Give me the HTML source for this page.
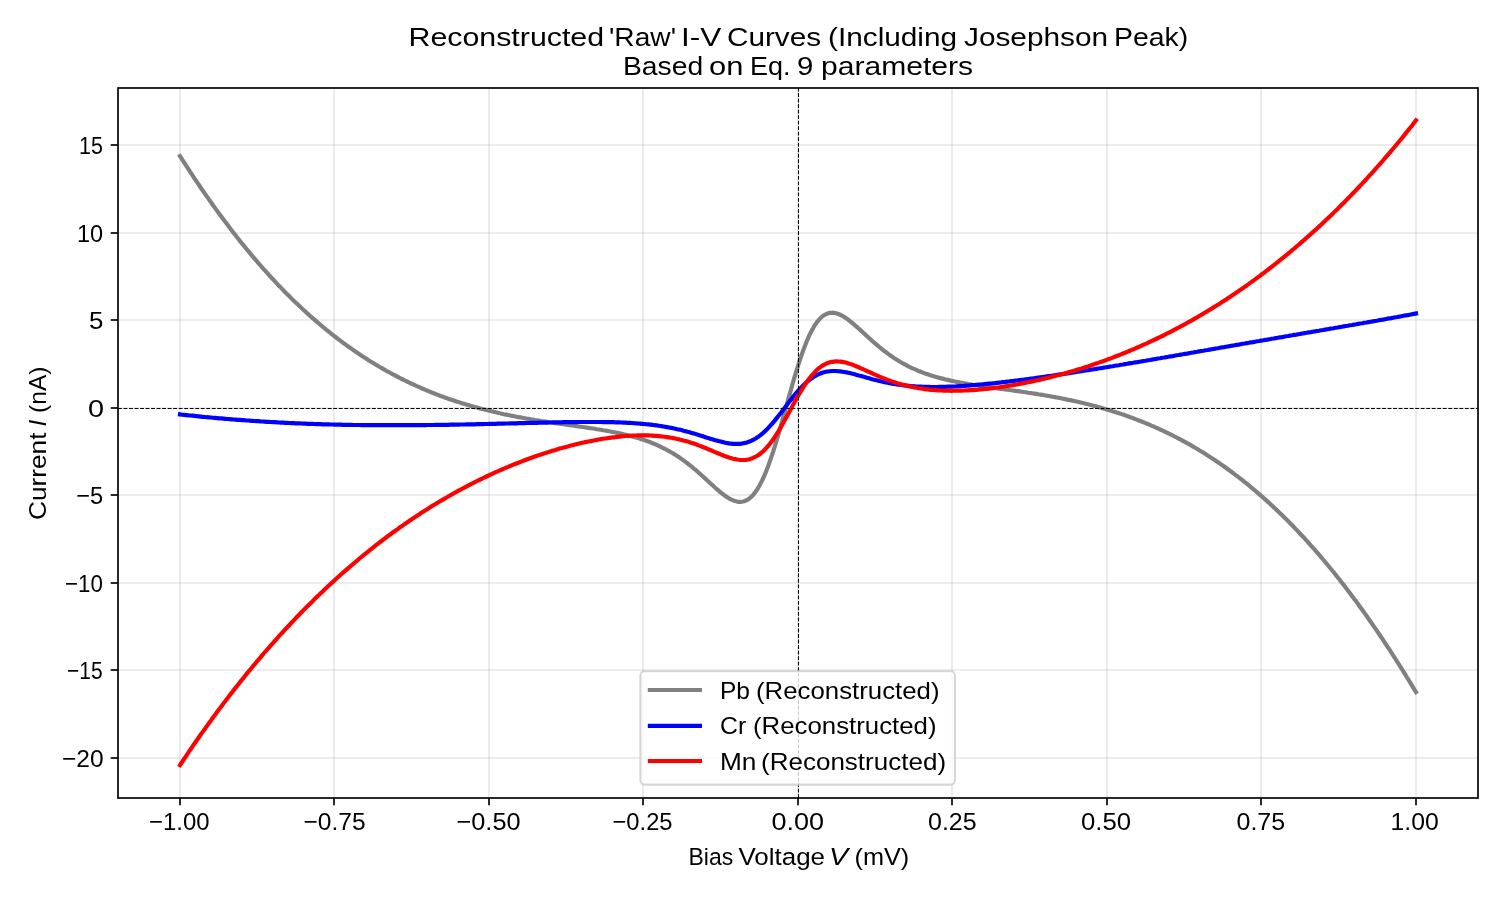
<!DOCTYPE html>
<html><head><meta charset="utf-8"><title>Reconstructed Raw I-V Curves</title>
<style>html,body{margin:0;padding:0;background:#fff}body{width:1500px;height:900px;overflow:hidden}svg{display:block;will-change:transform}text{font-family:"Liberation Sans",sans-serif;fill:#000}</style></head><body>
<svg width="1500" height="900" viewBox="0 0 1500 900">
<rect x="0" y="0" width="1500" height="900" fill="#fff"/>
<g stroke="#b0b0b0" stroke-opacity="0.3" stroke-width="1.67" fill="none">
<line x1="180" y1="88.0" x2="180" y2="798.0"/>
<line x1="334" y1="88.0" x2="334" y2="798.0"/>
<line x1="489" y1="88.0" x2="489" y2="798.0"/>
<line x1="643" y1="88.0" x2="643" y2="798.0"/>
<line x1="798" y1="88.0" x2="798" y2="798.0"/>
<line x1="952" y1="88.0" x2="952" y2="798.0"/>
<line x1="1107" y1="88.0" x2="1107" y2="798.0"/>
<line x1="1261" y1="88.0" x2="1261" y2="798.0"/>
<line x1="1416" y1="88.0" x2="1416" y2="798.0"/>
<line x1="118.0" y1="145" x2="1478.0" y2="145"/>
<line x1="118.0" y1="233" x2="1478.0" y2="233"/>
<line x1="118.0" y1="320" x2="1478.0" y2="320"/>
<line x1="118.0" y1="408" x2="1478.0" y2="408"/>
<line x1="118.0" y1="495" x2="1478.0" y2="495"/>
<line x1="118.0" y1="583" x2="1478.0" y2="583"/>
<line x1="118.0" y1="670" x2="1478.0" y2="670"/>
<line x1="118.0" y1="758" x2="1478.0" y2="758"/>
</g>
<g fill="none" stroke-width="4.17" stroke-linecap="square" stroke-linejoin="round">
<polyline stroke="#808080" points="180.0,156.1 182.1,159.3 184.1,162.5 186.2,165.7 188.3,168.9 190.3,172.1 192.4,175.2 194.4,178.3 196.5,181.4 198.6,184.4 200.6,187.5 202.7,190.5 204.8,193.5 206.8,196.4 208.9,199.4 211.0,202.3 213.0,205.2 215.1,208.1 217.1,210.9 219.2,213.8 221.3,216.6 223.3,219.3 225.4,222.1 227.5,224.8 229.5,227.5 231.6,230.2 233.6,232.9 235.7,235.5 237.8,238.2 239.8,240.8 241.9,243.3 244.0,245.9 246.0,248.4 248.1,250.9 250.2,253.4 252.2,255.9 254.3,258.3 256.3,260.7 258.4,263.1 260.5,265.5 262.5,267.8 264.6,270.1 266.7,272.4 268.7,274.7 270.8,277.0 272.9,279.2 274.9,281.4 277.0,283.6 279.0,285.8 281.1,287.9 283.2,290.1 285.2,292.2 287.3,294.3 289.4,296.3 291.4,298.4 293.5,300.4 295.6,302.4 297.6,304.3 299.7,306.3 301.7,308.2 303.8,310.2 305.9,312.0 307.9,313.9 310.0,315.8 312.1,317.6 314.1,319.4 316.2,321.2 318.3,323.0 320.3,324.7 322.4,326.5 324.4,328.2 326.5,329.9 328.6,331.5 330.6,333.2 332.7,334.8 334.8,336.4 336.8,338.0 338.9,339.6 340.9,341.1 343.0,342.7 345.1,344.2 347.1,345.7 349.2,347.2 351.3,348.6 353.3,350.1 355.4,351.5 357.5,352.9 359.5,354.3 361.6,355.7 363.6,357.0 365.7,358.3 367.8,359.7 369.8,361.0 371.9,362.2 374.0,363.5 376.0,364.8 378.1,366.0 380.2,367.2 382.2,368.4 384.3,369.6 386.3,370.8 388.4,371.9 390.5,373.0 392.5,374.1 394.6,375.2 396.7,376.3 398.7,377.4 400.8,378.5 402.9,379.5 404.9,380.5 407.0,381.5 409.0,382.5 411.1,383.5 413.2,384.4 415.2,385.4 417.3,386.3 419.4,387.2 421.4,388.2 423.5,389.0 425.5,389.9 427.6,390.8 429.7,391.6 431.7,392.5 433.8,393.3 435.9,394.1 437.9,394.9 440.0,395.7 442.1,396.4 444.1,397.2 446.2,397.9 448.2,398.7 450.3,399.4 452.4,400.1 454.4,400.8 456.5,401.5 458.6,402.1 460.6,402.8 462.7,403.4 464.8,404.1 466.8,404.7 468.9,405.3 470.9,405.9 473.0,406.5 475.1,407.1 477.1,407.6 479.2,408.2 481.3,408.8 483.3,409.3 485.4,409.8 487.5,410.3 489.5,410.8 491.6,411.3 493.6,411.8 495.7,412.3 497.8,412.8 499.8,413.3 501.9,413.7 504.0,414.2 506.0,414.6 508.1,415.0 510.2,415.4 512.2,415.9 514.3,416.3 516.3,416.7 518.4,417.1 520.5,417.4 522.5,417.8 524.6,418.2 526.7,418.6 528.7,418.9 530.8,419.3 532.8,419.6 534.9,420.0 537.0,420.3 539.0,420.6 541.1,421.0 543.2,421.3 545.2,421.6 547.3,421.9 549.4,422.2 551.4,422.5 553.5,422.8 555.5,423.2 557.6,423.5 559.7,423.7 561.7,424.0 563.8,424.3 565.9,424.6 567.9,424.9 570.0,425.2 572.1,425.5 574.1,425.8 576.2,426.1 578.2,426.4 580.3,426.7 582.4,427.0 584.4,427.3 586.5,427.6 588.6,427.9 590.6,428.2 592.7,428.5 594.8,428.8 596.8,429.2 598.9,429.5 600.9,429.8 603.0,430.2 605.1,430.5 607.1,430.9 609.2,431.3 611.3,431.7 613.3,432.1 615.4,432.5 617.4,432.9 619.5,433.3 621.6,433.8 623.6,434.3 625.7,434.7 627.8,435.3 629.8,435.8 631.9,436.3 634.0,436.9 636.0,437.5 638.1,438.1 640.1,438.7 642.2,439.4 644.3,440.1 646.3,440.8 648.4,441.6 650.5,442.3 652.5,443.2 654.6,444.0 656.7,444.9 658.7,445.8 660.8,446.8 662.8,447.8 664.9,448.9 667.0,450.0 669.0,451.1 671.1,452.3 673.2,453.5 675.2,454.8 677.3,456.1 679.4,457.5 681.4,458.9 683.5,460.4 685.5,461.9 687.6,463.5 689.7,465.1 691.7,466.7 693.8,468.5 695.9,470.2 697.9,472.0 700.0,473.8 702.1,475.7 704.1,477.5 706.2,479.4 708.2,481.3 710.3,483.2 712.4,485.1 714.4,487.0 716.5,488.8 718.6,490.6 720.6,492.3 722.7,494.0 724.7,495.5 726.8,497.0 728.9,498.3 730.9,499.4 733.0,500.3 735.1,501.1 737.1,501.6 739.2,501.9 741.3,501.8 743.3,501.5 745.4,500.8 747.4,499.8 749.5,498.4 751.6,496.5 753.6,494.3 755.7,491.6 757.8,488.5 759.8,485.0 761.9,480.9 764.0,476.5 766.0,471.6 768.1,466.3 770.1,460.6 772.2,454.5 774.3,448.1 776.3,441.4 778.4,434.4 780.5,427.2 782.5,419.9 784.6,412.5 786.7,405.0 788.7,397.6 790.8,390.2 792.8,383.0 794.9,375.9 797.0,369.1 799.0,362.6 801.1,356.4 803.2,350.5 805.2,345.1 807.3,340.0 809.3,335.4 811.4,331.2 813.5,327.4 815.5,324.2 817.6,321.3 819.7,318.9 821.7,316.9 823.8,315.4 825.9,314.2 827.9,313.4 830.0,312.9 832.0,312.7 834.1,312.9 836.2,313.3 838.2,314.0 840.3,314.8 842.4,315.9 844.4,317.1 846.5,318.5 848.6,320.0 850.6,321.6 852.7,323.3 854.7,325.1 856.8,326.9 858.9,328.8 860.9,330.6 863.0,332.5 865.1,334.4 867.1,336.3 869.2,338.2 871.3,340.0 873.3,341.9 875.4,343.7 877.4,345.4 879.5,347.2 881.6,348.8 883.6,350.5 885.7,352.0 887.8,353.6 889.8,355.1 891.9,356.5 893.9,357.9 896.0,359.2 898.1,360.5 900.1,361.8 902.2,363.0 904.3,364.1 906.3,365.2 908.4,366.3 910.5,367.3 912.5,368.3 914.6,369.2 916.6,370.1 918.7,371.0 920.8,371.8 922.8,372.6 924.9,373.4 927.0,374.1 929.0,374.8 931.1,375.4 933.2,376.1 935.2,376.7 937.3,377.3 939.3,377.9 941.4,378.4 943.5,378.9 945.5,379.4 947.6,379.9 949.7,380.4 951.7,380.9 953.8,381.3 955.9,381.7 957.9,382.1 960.0,382.5 962.0,382.9 964.1,383.3 966.2,383.6 968.2,384.0 970.3,384.3 972.4,384.7 974.4,385.0 976.5,385.3 978.6,385.6 980.6,385.9 982.7,386.2 984.7,386.5 986.8,386.8 988.9,387.1 990.9,387.4 993.0,387.7 995.1,388.0 997.1,388.3 999.2,388.6 1001.2,388.9 1003.3,389.1 1005.4,389.4 1007.4,389.7 1009.5,390.0 1011.6,390.3 1013.6,390.6 1015.7,390.9 1017.8,391.1 1019.8,391.4 1021.9,391.7 1023.9,392.0 1026.0,392.3 1028.1,392.7 1030.1,393.0 1032.2,393.3 1034.3,393.6 1036.3,393.9 1038.4,394.3 1040.5,394.6 1042.5,394.9 1044.6,395.3 1046.6,395.6 1048.7,396.0 1050.8,396.4 1052.8,396.7 1054.9,397.1 1057.0,397.5 1059.0,397.9 1061.1,398.3 1063.2,398.7 1065.2,399.1 1067.3,399.6 1069.3,400.0 1071.4,400.4 1073.5,400.9 1075.5,401.3 1077.6,401.8 1079.7,402.3 1081.7,402.8 1083.8,403.3 1085.8,403.8 1087.9,404.3 1090.0,404.8 1092.0,405.3 1094.1,405.9 1096.2,406.4 1098.2,407.0 1100.3,407.6 1102.4,408.2 1104.4,408.8 1106.5,409.4 1108.5,410.0 1110.6,410.6 1112.7,411.3 1114.7,411.9 1116.8,412.6 1118.9,413.2 1120.9,413.9 1123.0,414.6 1125.1,415.3 1127.1,416.1 1129.2,416.8 1131.2,417.6 1133.3,418.3 1135.4,419.1 1137.4,419.9 1139.5,420.7 1141.6,421.5 1143.6,422.3 1145.7,423.2 1147.8,424.0 1149.8,424.9 1151.9,425.8 1153.9,426.7 1156.0,427.6 1158.1,428.5 1160.1,429.5 1162.2,430.4 1164.3,431.4 1166.3,432.4 1168.4,433.4 1170.5,434.4 1172.5,435.4 1174.6,436.5 1176.6,437.5 1178.7,438.6 1180.8,439.7 1182.8,440.8 1184.9,441.9 1187.0,443.1 1189.0,444.2 1191.1,445.4 1193.1,446.6 1195.2,447.8 1197.3,449.0 1199.3,450.3 1201.4,451.5 1203.5,452.8 1205.5,454.1 1207.6,455.4 1209.7,456.7 1211.7,458.1 1213.8,459.4 1215.8,460.8 1217.9,462.2 1220.0,463.6 1222.0,465.1 1224.1,466.5 1226.2,468.0 1228.2,469.5 1230.3,471.0 1232.4,472.5 1234.4,474.1 1236.5,475.6 1238.5,477.2 1240.6,478.8 1242.7,480.4 1244.7,482.1 1246.8,483.7 1248.9,485.4 1250.9,487.1 1253.0,488.8 1255.1,490.6 1257.1,492.3 1259.2,494.1 1261.2,495.9 1263.3,497.7 1265.4,499.6 1267.4,501.4 1269.5,503.3 1271.6,505.2 1273.6,507.1 1275.7,509.0 1277.7,511.0 1279.8,513.0 1281.9,515.0 1283.9,517.0 1286.0,519.1 1288.1,521.1 1290.1,523.2 1292.2,525.3 1294.3,527.5 1296.3,529.6 1298.4,531.8 1300.4,534.0 1302.5,536.2 1304.6,538.4 1306.6,540.7 1308.7,543.0 1310.8,545.3 1312.8,547.6 1314.9,549.9 1317.0,552.3 1319.0,554.7 1321.1,557.1 1323.1,559.5 1325.2,562.0 1327.3,564.5 1329.3,567.0 1331.4,569.5 1333.5,572.0 1335.5,574.6 1337.6,577.2 1339.7,579.8 1341.7,582.4 1343.8,585.1 1345.8,587.8 1347.9,590.5 1350.0,593.2 1352.0,596.0 1354.1,598.7 1356.2,601.5 1358.2,604.3 1360.3,607.2 1362.4,610.0 1364.4,612.9 1366.5,615.8 1368.5,618.7 1370.6,621.7 1372.7,624.7 1374.7,627.6 1376.8,630.7 1378.9,633.7 1380.9,636.8 1383.0,639.8 1385.0,643.0 1387.1,646.1 1389.2,649.2 1391.2,652.4 1393.3,655.6 1395.4,658.8 1397.4,662.0 1399.5,665.3 1401.6,668.6 1403.6,671.9 1405.7,675.2 1407.7,678.6 1409.8,681.9 1411.9,685.3 1413.9,688.7 1416.0,692.1"/>
<polyline stroke="#0000ff" points="180.0,414.4 182.1,414.7 184.1,414.9 186.2,415.1 188.3,415.3 190.3,415.5 192.4,415.7 194.4,415.9 196.5,416.2 198.6,416.4 200.6,416.6 202.7,416.8 204.8,417.0 206.8,417.2 208.9,417.3 211.0,417.5 213.0,417.7 215.1,417.9 217.1,418.1 219.2,418.3 221.3,418.4 223.3,418.6 225.4,418.8 227.5,419.0 229.5,419.1 231.6,419.3 233.6,419.5 235.7,419.6 237.8,419.8 239.8,419.9 241.9,420.1 244.0,420.2 246.0,420.4 248.1,420.5 250.2,420.7 252.2,420.8 254.3,421.0 256.3,421.1 258.4,421.2 260.5,421.4 262.5,421.5 264.6,421.6 266.7,421.8 268.7,421.9 270.8,422.0 272.9,422.1 274.9,422.2 277.0,422.3 279.0,422.5 281.1,422.6 283.2,422.7 285.2,422.8 287.3,422.9 289.4,423.0 291.4,423.1 293.5,423.2 295.6,423.3 297.6,423.3 299.7,423.4 301.7,423.5 303.8,423.6 305.9,423.7 307.9,423.8 310.0,423.8 312.1,423.9 314.1,424.0 316.2,424.1 318.3,424.1 320.3,424.2 322.4,424.3 324.4,424.3 326.5,424.4 328.6,424.4 330.6,424.5 332.7,424.5 334.8,424.6 336.8,424.6 338.9,424.7 340.9,424.7 343.0,424.8 345.1,424.8 347.1,424.8 349.2,424.9 351.3,424.9 353.3,425.0 355.4,425.0 357.5,425.0 359.5,425.0 361.6,425.1 363.6,425.1 365.7,425.1 367.8,425.1 369.8,425.2 371.9,425.2 374.0,425.2 376.0,425.2 378.1,425.2 380.2,425.2 382.2,425.2 384.3,425.2 386.3,425.2 388.4,425.2 390.5,425.2 392.5,425.2 394.6,425.2 396.7,425.2 398.7,425.2 400.8,425.2 402.9,425.2 404.9,425.2 407.0,425.2 409.0,425.2 411.1,425.2 413.2,425.2 415.2,425.2 417.3,425.1 419.4,425.1 421.4,425.1 423.5,425.1 425.5,425.1 427.6,425.0 429.7,425.0 431.7,425.0 433.8,425.0 435.9,424.9 437.9,424.9 440.0,424.9 442.1,424.9 444.1,424.8 446.2,424.8 448.2,424.8 450.3,424.7 452.4,424.7 454.4,424.7 456.5,424.6 458.6,424.6 460.6,424.5 462.7,424.5 464.8,424.5 466.8,424.4 468.9,424.4 470.9,424.3 473.0,424.3 475.1,424.3 477.1,424.2 479.2,424.2 481.3,424.1 483.3,424.1 485.4,424.0 487.5,424.0 489.5,423.9 491.6,423.9 493.6,423.8 495.7,423.8 497.8,423.7 499.8,423.7 501.9,423.6 504.0,423.6 506.0,423.5 508.1,423.5 510.2,423.4 512.2,423.4 514.3,423.3 516.3,423.3 518.4,423.2 520.5,423.2 522.5,423.1 524.6,423.1 526.7,423.0 528.7,423.0 530.8,422.9 532.8,422.9 534.9,422.8 537.0,422.8 539.0,422.7 541.1,422.7 543.2,422.6 545.2,422.6 547.3,422.6 549.4,422.5 551.4,422.5 553.5,422.4 555.5,422.4 557.6,422.3 559.7,422.3 561.7,422.3 563.8,422.2 565.9,422.2 567.9,422.2 570.0,422.1 572.1,422.1 574.1,422.1 576.2,422.1 578.2,422.0 580.3,422.0 582.4,422.0 584.4,422.0 586.5,422.0 588.6,422.0 590.6,422.0 592.7,422.0 594.8,422.0 596.8,422.0 598.9,422.0 600.9,422.0 603.0,422.1 605.1,422.1 607.1,422.1 609.2,422.1 611.3,422.2 613.3,422.2 615.4,422.3 617.4,422.4 619.5,422.4 621.6,422.5 623.6,422.6 625.7,422.7 627.8,422.8 629.8,422.9 631.9,423.0 634.0,423.2 636.0,423.3 638.1,423.5 640.1,423.6 642.2,423.8 644.3,424.0 646.3,424.2 648.4,424.4 650.5,424.6 652.5,424.9 654.6,425.2 656.7,425.4 658.7,425.7 660.8,426.0 662.8,426.4 664.9,426.7 667.0,427.1 669.0,427.5 671.1,427.9 673.2,428.3 675.2,428.7 677.3,429.2 679.4,429.6 681.4,430.1 683.5,430.7 685.5,431.2 687.6,431.8 689.7,432.3 691.7,432.9 693.8,433.5 695.9,434.1 697.9,434.8 700.0,435.4 702.1,436.0 704.1,436.7 706.2,437.4 708.2,438.0 710.3,438.7 712.4,439.3 714.4,439.9 716.5,440.5 718.6,441.1 720.6,441.6 722.7,442.1 724.7,442.6 726.8,443.0 728.9,443.4 730.9,443.6 733.0,443.8 735.1,443.9 737.1,443.9 739.2,443.9 741.3,443.7 743.3,443.3 745.4,442.9 747.4,442.3 749.5,441.6 751.6,440.7 753.6,439.6 755.7,438.5 757.8,437.1 759.8,435.6 761.9,434.0 764.0,432.2 766.0,430.2 768.1,428.1 770.1,425.9 772.2,423.6 774.3,421.1 776.3,418.6 778.4,416.0 780.5,413.4 782.5,410.7 784.6,407.9 786.7,405.2 788.7,402.5 790.8,399.9 792.8,397.2 794.9,394.7 797.0,392.2 799.0,389.9 801.1,387.6 803.2,385.5 805.2,383.5 807.3,381.7 809.3,380.0 811.4,378.4 813.5,377.0 815.5,375.8 817.6,374.7 819.7,373.8 821.7,373.0 823.8,372.3 825.9,371.8 827.9,371.5 830.0,371.2 832.0,371.0 834.1,371.0 836.2,371.0 838.2,371.2 840.3,371.4 842.4,371.7 844.4,372.0 846.5,372.4 848.6,372.8 850.6,373.3 852.7,373.8 854.7,374.3 856.8,374.9 858.9,375.5 860.9,376.0 863.0,376.6 865.1,377.2 867.1,377.8 869.2,378.3 871.3,378.9 873.3,379.4 875.4,380.0 877.4,380.5 879.5,381.0 881.6,381.5 883.6,381.9 885.7,382.4 887.8,382.8 889.8,383.2 891.9,383.6 893.9,383.9 896.0,384.2 898.1,384.6 900.1,384.8 902.2,385.1 904.3,385.4 906.3,385.6 908.4,385.8 910.5,386.0 912.5,386.2 914.6,386.3 916.6,386.5 918.7,386.6 920.8,386.7 922.8,386.8 924.9,386.8 927.0,386.9 929.0,386.9 931.1,387.0 933.2,387.0 935.2,387.0 937.3,387.0 939.3,386.9 941.4,386.9 943.5,386.9 945.5,386.8 947.6,386.7 949.7,386.7 951.7,386.6 953.8,386.5 955.9,386.4 957.9,386.2 960.0,386.1 962.0,386.0 964.1,385.9 966.2,385.7 968.2,385.6 970.3,385.4 972.4,385.2 974.4,385.1 976.5,384.9 978.6,384.7 980.6,384.5 982.7,384.3 984.7,384.1 986.8,383.9 988.9,383.7 990.9,383.5 993.0,383.3 995.1,383.1 997.1,382.8 999.2,382.6 1001.2,382.4 1003.3,382.1 1005.4,381.9 1007.4,381.6 1009.5,381.4 1011.6,381.1 1013.6,380.9 1015.7,380.6 1017.8,380.4 1019.8,380.1 1021.9,379.8 1023.9,379.6 1026.0,379.3 1028.1,379.0 1030.1,378.7 1032.2,378.5 1034.3,378.2 1036.3,377.9 1038.4,377.6 1040.5,377.3 1042.5,377.0 1044.6,376.7 1046.6,376.4 1048.7,376.1 1050.8,375.9 1052.8,375.6 1054.9,375.2 1057.0,374.9 1059.0,374.6 1061.1,374.3 1063.2,374.0 1065.2,373.7 1067.3,373.4 1069.3,373.1 1071.4,372.8 1073.5,372.4 1075.5,372.1 1077.6,371.8 1079.7,371.5 1081.7,371.2 1083.8,370.8 1085.8,370.5 1087.9,370.2 1090.0,369.9 1092.0,369.5 1094.1,369.2 1096.2,368.9 1098.2,368.5 1100.3,368.2 1102.4,367.9 1104.4,367.5 1106.5,367.2 1108.5,366.9 1110.6,366.5 1112.7,366.2 1114.7,365.8 1116.8,365.5 1118.9,365.2 1120.9,364.8 1123.0,364.5 1125.1,364.1 1127.1,363.8 1129.2,363.4 1131.2,363.1 1133.3,362.8 1135.4,362.4 1137.4,362.1 1139.5,361.7 1141.6,361.4 1143.6,361.0 1145.7,360.7 1147.8,360.3 1149.8,360.0 1151.9,359.6 1153.9,359.2 1156.0,358.9 1158.1,358.5 1160.1,358.2 1162.2,357.8 1164.3,357.5 1166.3,357.1 1168.4,356.8 1170.5,356.4 1172.5,356.1 1174.6,355.7 1176.6,355.3 1178.7,355.0 1180.8,354.6 1182.8,354.3 1184.9,353.9 1187.0,353.6 1189.0,353.2 1191.1,352.8 1193.1,352.5 1195.2,352.1 1197.3,351.8 1199.3,351.4 1201.4,351.0 1203.5,350.7 1205.5,350.3 1207.6,350.0 1209.7,349.6 1211.7,349.2 1213.8,348.9 1215.8,348.5 1217.9,348.2 1220.0,347.8 1222.0,347.4 1224.1,347.1 1226.2,346.7 1228.2,346.4 1230.3,346.0 1232.4,345.6 1234.4,345.3 1236.5,344.9 1238.5,344.6 1240.6,344.2 1242.7,343.8 1244.7,343.5 1246.8,343.1 1248.9,342.8 1250.9,342.4 1253.0,342.1 1255.1,341.7 1257.1,341.3 1259.2,341.0 1261.2,340.6 1263.3,340.3 1265.4,339.9 1267.4,339.6 1269.5,339.2 1271.6,338.8 1273.6,338.5 1275.7,338.1 1277.7,337.8 1279.8,337.4 1281.9,337.1 1283.9,336.7 1286.0,336.3 1288.1,336.0 1290.1,335.6 1292.2,335.3 1294.3,334.9 1296.3,334.6 1298.4,334.2 1300.4,333.9 1302.5,333.5 1304.6,333.1 1306.6,332.8 1308.7,332.4 1310.8,332.1 1312.8,331.7 1314.9,331.4 1317.0,331.0 1319.0,330.7 1321.1,330.3 1323.1,330.0 1325.2,329.6 1327.3,329.2 1329.3,328.9 1331.4,328.5 1333.5,328.2 1335.5,327.8 1337.6,327.5 1339.7,327.1 1341.7,326.8 1343.8,326.4 1345.8,326.0 1347.9,325.7 1350.0,325.3 1352.0,325.0 1354.1,324.6 1356.2,324.3 1358.2,323.9 1360.3,323.5 1362.4,323.2 1364.4,322.8 1366.5,322.5 1368.5,322.1 1370.6,321.7 1372.7,321.4 1374.7,321.0 1376.8,320.7 1378.9,320.3 1380.9,319.9 1383.0,319.6 1385.0,319.2 1387.1,318.8 1389.2,318.4 1391.2,318.1 1393.3,317.7 1395.4,317.3 1397.4,317.0 1399.5,316.6 1401.6,316.2 1403.6,315.8 1405.7,315.4 1407.7,315.1 1409.8,314.7 1411.9,314.3 1413.9,313.9 1416.0,313.5"/>
<polyline stroke="#ff0000" points="180.0,765.1 182.1,762.0 184.1,758.9 186.2,755.8 188.3,752.7 190.3,749.7 192.4,746.7 194.4,743.7 196.5,740.7 198.6,737.7 200.6,734.8 202.7,731.9 204.8,729.0 206.8,726.1 208.9,723.2 211.0,720.4 213.0,717.5 215.1,714.7 217.1,711.9 219.2,709.2 221.3,706.4 223.3,703.7 225.4,701.0 227.5,698.2 229.5,695.6 231.6,692.9 233.6,690.2 235.7,687.6 237.8,685.0 239.8,682.4 241.9,679.8 244.0,677.3 246.0,674.7 248.1,672.2 250.2,669.7 252.2,667.2 254.3,664.7 256.3,662.2 258.4,659.8 260.5,657.3 262.5,654.9 264.6,652.5 266.7,650.1 268.7,647.8 270.8,645.4 272.9,643.1 274.9,640.8 277.0,638.5 279.0,636.2 281.1,633.9 283.2,631.7 285.2,629.4 287.3,627.2 289.4,625.0 291.4,622.8 293.5,620.6 295.6,618.4 297.6,616.3 299.7,614.2 301.7,612.0 303.8,609.9 305.9,607.8 307.9,605.8 310.0,603.7 312.1,601.7 314.1,599.6 316.2,597.6 318.3,595.6 320.3,593.6 322.4,591.7 324.4,589.7 326.5,587.8 328.6,585.8 330.6,583.9 332.7,582.0 334.8,580.1 336.8,578.2 338.9,576.4 340.9,574.5 343.0,572.7 345.1,570.9 347.1,569.1 349.2,567.3 351.3,565.5 353.3,563.8 355.4,562.0 357.5,560.3 359.5,558.5 361.6,556.8 363.6,555.1 365.7,553.5 367.8,551.8 369.8,550.1 371.9,548.5 374.0,546.8 376.0,545.2 378.1,543.6 380.2,542.0 382.2,540.5 384.3,538.9 386.3,537.3 388.4,535.8 390.5,534.3 392.5,532.7 394.6,531.2 396.7,529.8 398.7,528.3 400.8,526.8 402.9,525.4 404.9,523.9 407.0,522.5 409.0,521.1 411.1,519.7 413.2,518.3 415.2,516.9 417.3,515.5 419.4,514.2 421.4,512.8 423.5,511.5 425.5,510.2 427.6,508.9 429.7,507.6 431.7,506.3 433.8,505.0 435.9,503.8 437.9,502.5 440.0,501.3 442.1,500.1 444.1,498.9 446.2,497.7 448.2,496.5 450.3,495.3 452.4,494.1 454.4,493.0 456.5,491.8 458.6,490.7 460.6,489.6 462.7,488.5 464.8,487.4 466.8,486.3 468.9,485.2 470.9,484.1 473.0,483.1 475.1,482.0 477.1,481.0 479.2,480.0 481.3,479.0 483.3,478.0 485.4,477.0 487.5,476.0 489.5,475.0 491.6,474.1 493.6,473.2 495.7,472.2 497.8,471.3 499.8,470.4 501.9,469.5 504.0,468.6 506.0,467.7 508.1,466.9 510.2,466.0 512.2,465.1 514.3,464.3 516.3,463.5 518.4,462.7 520.5,461.9 522.5,461.1 524.6,460.3 526.7,459.5 528.7,458.8 530.8,458.0 532.8,457.3 534.9,456.5 537.0,455.8 539.0,455.1 541.1,454.4 543.2,453.7 545.2,453.1 547.3,452.4 549.4,451.8 551.4,451.1 553.5,450.5 555.5,449.9 557.6,449.2 559.7,448.6 561.7,448.1 563.8,447.5 565.9,446.9 567.9,446.4 570.0,445.8 572.1,445.3 574.1,444.8 576.2,444.3 578.2,443.8 580.3,443.3 582.4,442.8 584.4,442.4 586.5,441.9 588.6,441.5 590.6,441.1 592.7,440.7 594.8,440.3 596.8,439.9 598.9,439.5 600.9,439.1 603.0,438.8 605.1,438.5 607.1,438.2 609.2,437.9 611.3,437.6 613.3,437.3 615.4,437.1 617.4,436.8 619.5,436.6 621.6,436.4 623.6,436.2 625.7,436.0 627.8,435.9 629.8,435.8 631.9,435.6 634.0,435.5 636.0,435.5 638.1,435.4 640.1,435.4 642.2,435.4 644.3,435.4 646.3,435.4 648.4,435.4 650.5,435.5 652.5,435.6 654.6,435.8 656.7,435.9 658.7,436.1 660.8,436.3 662.8,436.5 664.9,436.8 667.0,437.1 669.0,437.4 671.1,437.7 673.2,438.1 675.2,438.5 677.3,439.0 679.4,439.4 681.4,439.9 683.5,440.5 685.5,441.0 687.6,441.6 689.7,442.3 691.7,442.9 693.8,443.6 695.9,444.3 697.9,445.1 700.0,445.9 702.1,446.7 704.1,447.5 706.2,448.3 708.2,449.2 710.3,450.0 712.4,450.9 714.4,451.8 716.5,452.7 718.6,453.5 720.6,454.4 722.7,455.2 724.7,456.0 726.8,456.7 728.9,457.4 730.9,458.1 733.0,458.7 735.1,459.1 737.1,459.5 739.2,459.8 741.3,460.0 743.3,460.0 745.4,459.9 747.4,459.6 749.5,459.2 751.6,458.6 753.6,457.7 755.7,456.7 757.8,455.5 759.8,454.0 761.9,452.4 764.0,450.5 766.0,448.3 768.1,446.0 770.1,443.4 772.2,440.7 774.3,437.7 776.3,434.6 778.4,431.3 780.5,427.8 782.5,424.2 784.6,420.5 786.7,416.8 788.7,413.0 790.8,409.2 792.8,405.4 794.9,401.6 797.0,397.9 799.0,394.3 801.1,390.9 803.2,387.5 805.2,384.3 807.3,381.3 809.3,378.5 811.4,375.9 813.5,373.5 815.5,371.3 817.6,369.4 819.7,367.6 821.7,366.1 823.8,364.9 825.9,363.8 827.9,363.0 830.0,362.3 832.0,361.8 834.1,361.6 836.2,361.4 838.2,361.5 840.3,361.6 842.4,361.9 844.4,362.3 846.5,362.8 848.6,363.4 850.6,364.1 852.7,364.8 854.7,365.6 856.8,366.5 858.9,367.3 860.9,368.3 863.0,369.2 865.1,370.1 867.1,371.1 869.2,372.0 871.3,372.9 873.3,373.9 875.4,374.8 877.4,375.7 879.5,376.6 881.6,377.4 883.6,378.3 885.7,379.1 887.8,379.9 889.8,380.6 891.9,381.4 893.9,382.1 896.0,382.7 898.1,383.4 900.1,384.0 902.2,384.6 904.3,385.1 906.3,385.6 908.4,386.1 910.5,386.6 912.5,387.0 914.6,387.4 916.6,387.8 918.7,388.2 920.8,388.5 922.8,388.8 924.9,389.1 927.0,389.3 929.0,389.6 931.1,389.8 933.2,390.0 935.2,390.1 937.3,390.3 939.3,390.4 941.4,390.5 943.5,390.6 945.5,390.7 947.6,390.7 949.7,390.7 951.7,390.8 953.8,390.7 955.9,390.7 957.9,390.7 960.0,390.6 962.0,390.6 964.1,390.5 966.2,390.4 968.2,390.3 970.3,390.2 972.4,390.1 974.4,389.9 976.5,389.8 978.6,389.6 980.6,389.4 982.7,389.2 984.7,389.0 986.8,388.8 988.9,388.6 990.9,388.3 993.0,388.1 995.1,387.8 997.1,387.5 999.2,387.3 1001.2,387.0 1003.3,386.7 1005.4,386.3 1007.4,386.0 1009.5,385.7 1011.6,385.4 1013.6,385.0 1015.7,384.6 1017.8,384.3 1019.8,383.9 1021.9,383.5 1023.9,383.1 1026.0,382.7 1028.1,382.3 1030.1,381.9 1032.2,381.4 1034.3,381.0 1036.3,380.5 1038.4,380.1 1040.5,379.6 1042.5,379.1 1044.6,378.6 1046.6,378.1 1048.7,377.6 1050.8,377.1 1052.8,376.6 1054.9,376.1 1057.0,375.5 1059.0,375.0 1061.1,374.4 1063.2,373.9 1065.2,373.3 1067.3,372.7 1069.3,372.1 1071.4,371.5 1073.5,370.9 1075.5,370.3 1077.6,369.6 1079.7,369.0 1081.7,368.4 1083.8,367.7 1085.8,367.0 1087.9,366.4 1090.0,365.7 1092.0,365.0 1094.1,364.3 1096.2,363.6 1098.2,362.9 1100.3,362.1 1102.4,361.4 1104.4,360.7 1106.5,359.9 1108.5,359.1 1110.6,358.4 1112.7,357.6 1114.7,356.8 1116.8,356.0 1118.9,355.2 1120.9,354.4 1123.0,353.5 1125.1,352.7 1127.1,351.9 1129.2,351.0 1131.2,350.1 1133.3,349.3 1135.4,348.4 1137.4,347.5 1139.5,346.6 1141.6,345.7 1143.6,344.7 1145.7,343.8 1147.8,342.9 1149.8,341.9 1151.9,340.9 1153.9,340.0 1156.0,339.0 1158.1,338.0 1160.1,337.0 1162.2,336.0 1164.3,335.0 1166.3,333.9 1168.4,332.9 1170.5,331.8 1172.5,330.8 1174.6,329.7 1176.6,328.6 1178.7,327.5 1180.8,326.4 1182.8,325.3 1184.9,324.2 1187.0,323.0 1189.0,321.9 1191.1,320.7 1193.1,319.6 1195.2,318.4 1197.3,317.2 1199.3,316.0 1201.4,314.8 1203.5,313.6 1205.5,312.3 1207.6,311.1 1209.7,309.8 1211.7,308.6 1213.8,307.3 1215.8,306.0 1217.9,304.7 1220.0,303.4 1222.0,302.1 1224.1,300.8 1226.2,299.4 1228.2,298.1 1230.3,296.7 1232.4,295.3 1234.4,293.9 1236.5,292.5 1238.5,291.1 1240.6,289.7 1242.7,288.3 1244.7,286.8 1246.8,285.4 1248.9,283.9 1250.9,282.4 1253.0,280.9 1255.1,279.4 1257.1,277.9 1259.2,276.4 1261.2,274.8 1263.3,273.3 1265.4,271.7 1267.4,270.1 1269.5,268.5 1271.6,266.9 1273.6,265.3 1275.7,263.7 1277.7,262.1 1279.8,260.4 1281.9,258.7 1283.9,257.1 1286.0,255.4 1288.1,253.7 1290.1,252.0 1292.2,250.2 1294.3,248.5 1296.3,246.7 1298.4,245.0 1300.4,243.2 1302.5,241.4 1304.6,239.6 1306.6,237.8 1308.7,235.9 1310.8,234.1 1312.8,232.2 1314.9,230.4 1317.0,228.5 1319.0,226.6 1321.1,224.7 1323.1,222.7 1325.2,220.8 1327.3,218.8 1329.3,216.9 1331.4,214.9 1333.5,212.9 1335.5,210.9 1337.6,208.9 1339.7,206.8 1341.7,204.8 1343.8,202.7 1345.8,200.6 1347.9,198.5 1350.0,196.4 1352.0,194.3 1354.1,192.1 1356.2,190.0 1358.2,187.8 1360.3,185.6 1362.4,183.4 1364.4,181.2 1366.5,179.0 1368.5,176.7 1370.6,174.4 1372.7,172.2 1374.7,169.9 1376.8,167.5 1378.9,165.2 1380.9,162.9 1383.0,160.5 1385.0,158.1 1387.1,155.7 1389.2,153.3 1391.2,150.9 1393.3,148.5 1395.4,146.0 1397.4,143.5 1399.5,141.0 1401.6,138.5 1403.6,136.0 1405.7,133.4 1407.7,130.9 1409.8,128.3 1411.9,125.7 1413.9,123.1 1416.0,120.4"/>
</g>
<g stroke="#000" stroke-width="1.04" stroke-dasharray="3.85 1.67" fill="none">
<line x1="118.0" y1="408.5" x2="1478.0" y2="408.5"/>
<line x1="798.5" y1="798.0" x2="798.5" y2="88.0"/>
</g>
<g stroke="#000" stroke-width="1.67" fill="none">
<line x1="180" y1="798.0" x2="180" y2="805.3"/>
<line x1="334" y1="798.0" x2="334" y2="805.3"/>
<line x1="489" y1="798.0" x2="489" y2="805.3"/>
<line x1="643" y1="798.0" x2="643" y2="805.3"/>
<line x1="798" y1="798.0" x2="798" y2="805.3"/>
<line x1="952" y1="798.0" x2="952" y2="805.3"/>
<line x1="1107" y1="798.0" x2="1107" y2="805.3"/>
<line x1="1261" y1="798.0" x2="1261" y2="805.3"/>
<line x1="1416" y1="798.0" x2="1416" y2="805.3"/>
<line x1="118.0" y1="145" x2="110.7" y2="145"/>
<line x1="118.0" y1="233" x2="110.7" y2="233"/>
<line x1="118.0" y1="320" x2="110.7" y2="320"/>
<line x1="118.0" y1="408" x2="110.7" y2="408"/>
<line x1="118.0" y1="495" x2="110.7" y2="495"/>
<line x1="118.0" y1="583" x2="110.7" y2="583"/>
<line x1="118.0" y1="670" x2="110.7" y2="670"/>
<line x1="118.0" y1="758" x2="110.7" y2="758"/>
</g>
<rect x="118.0" y="88.0" width="1360.0" height="710.0" fill="none" stroke="#000" stroke-width="1.67"/>
<text x="408.50" y="45.5" font-size="26.0" textLength="195.62" lengthAdjust="spacingAndGlyphs">Reconstructed</text>
<text x="609.00" y="45.5" font-size="26.0" textLength="67.06" lengthAdjust="spacingAndGlyphs">'Raw'</text>
<text x="681.00" y="45.5" font-size="26.0" textLength="40.26" lengthAdjust="spacingAndGlyphs">I-V</text>
<text x="727.00" y="45.5" font-size="26.0" textLength="94.07" lengthAdjust="spacingAndGlyphs">Curves</text>
<text x="828.00" y="45.5" font-size="26.0" textLength="129.10" lengthAdjust="spacingAndGlyphs">(Including</text>
<text x="964.00" y="45.5" font-size="26.0" textLength="144.07" lengthAdjust="spacingAndGlyphs">Josephson</text>
<text x="1114.00" y="45.5" font-size="26.0" textLength="74.24" lengthAdjust="spacingAndGlyphs">Peak)</text>
<text x="623.00" y="75.3" font-size="26.0" textLength="80.22" lengthAdjust="spacingAndGlyphs">Based</text>
<text x="709.00" y="75.3" font-size="26.0" textLength="34.36" lengthAdjust="spacingAndGlyphs">on</text>
<text x="750.00" y="75.3" font-size="26.0" textLength="40.52" lengthAdjust="spacingAndGlyphs">Eq.</text>
<text x="797.00" y="75.3" font-size="26.0" textLength="16.33" lengthAdjust="spacingAndGlyphs">9</text>
<text x="821.00" y="75.3" font-size="26.0" textLength="152.06" lengthAdjust="spacingAndGlyphs">parameters</text>
<text x="149.00" y="829.8" font-size="24.5" textLength="60.56" lengthAdjust="spacingAndGlyphs">−1.00</text>
<text x="303.50" y="829.8" font-size="24.5" textLength="62.12" lengthAdjust="spacingAndGlyphs">−0.75</text>
<text x="456.50" y="829.8" font-size="24.5" textLength="64.08" lengthAdjust="spacingAndGlyphs">−0.50</text>
<text x="612.50" y="829.8" font-size="24.5" textLength="60.08" lengthAdjust="spacingAndGlyphs">−0.25</text>
<text x="771.50" y="829.8" font-size="24.5" textLength="52.61" lengthAdjust="spacingAndGlyphs">0.00</text>
<text x="928.00" y="829.8" font-size="24.5" textLength="48.64" lengthAdjust="spacingAndGlyphs">0.25</text>
<text x="1081.00" y="829.8" font-size="24.5" textLength="50.09" lengthAdjust="spacingAndGlyphs">0.50</text>
<text x="1236.50" y="829.8" font-size="24.5" textLength="48.62" lengthAdjust="spacingAndGlyphs">0.75</text>
<text x="1390.50" y="829.8" font-size="24.5" textLength="48.22" lengthAdjust="spacingAndGlyphs">1.00</text>
<text x="79.00" y="153.7" font-size="24.5" textLength="23.88" lengthAdjust="spacingAndGlyphs">15</text>
<text x="77.00" y="241.7" font-size="24.5" textLength="26.18" lengthAdjust="spacingAndGlyphs">10</text>
<text x="89.00" y="328.7" font-size="24.5" textLength="14.40" lengthAdjust="spacingAndGlyphs">5</text>
<text x="88.00" y="416.7" font-size="24.5" textLength="16.07" lengthAdjust="spacingAndGlyphs">0</text>
<text x="76.25" y="503.7" font-size="24.5" textLength="26.92" lengthAdjust="spacingAndGlyphs">−5</text>
<text x="65.00" y="591.7" font-size="24.5" textLength="37.86" lengthAdjust="spacingAndGlyphs">−10</text>
<text x="67.00" y="678.7" font-size="24.5" textLength="35.61" lengthAdjust="spacingAndGlyphs">−15</text>
<text x="62.00" y="766.7" font-size="24.5" textLength="41.65" lengthAdjust="spacingAndGlyphs">−20</text>
<text x="688.50" y="864.5" font-size="24.5" textLength="44.64" lengthAdjust="spacingAndGlyphs">Bias</text>
<text x="738.50" y="864.5" font-size="24.5" textLength="86.55" lengthAdjust="spacingAndGlyphs">Voltage</text>
<text x="829.00" y="864.5" font-size="24.5" textLength="19.08" lengthAdjust="spacingAndGlyphs" font-style="italic">V</text>
<text x="854.50" y="864.5" font-size="24.5" textLength="54.72" lengthAdjust="spacingAndGlyphs">(mV)</text>
<g transform="translate(46,0) rotate(-90)">
<text x="-520.0" y="0" font-size="24.5" textLength="87.5" lengthAdjust="spacingAndGlyphs">Current</text>
<text x="-426.5" y="0" font-size="24.5" font-style="italic">I</text>
<text x="-413.0" y="0" font-size="24.5" textLength="46.5" lengthAdjust="spacingAndGlyphs">(nA)</text>
</g>
<rect x="640.4" y="671.3" width="314.5" height="113.3" rx="4" ry="4" fill="#fff" fill-opacity="0.8" stroke="#ccc" stroke-opacity="0.8" stroke-width="2.08"/>
<g fill="none" stroke-width="4.17">
<line x1="647.8" y1="690" x2="702" y2="690" stroke="#808080"/>
<line x1="647.8" y1="725.9" x2="702" y2="725.9" stroke="#0000ff"/>
<line x1="647.8" y1="761" x2="702" y2="761" stroke="#ff0000"/>
</g>
<text x="720.00" y="698.7" font-size="24.5" textLength="29.97" lengthAdjust="spacingAndGlyphs">Pb</text>
<text x="756.00" y="698.7" font-size="24.5" textLength="183.56" lengthAdjust="spacingAndGlyphs">(Reconstructed)</text>
<text x="720.00" y="734.4" font-size="24.5" textLength="26.13" lengthAdjust="spacingAndGlyphs">Cr</text>
<text x="753.00" y="734.4" font-size="24.5" textLength="183.54" lengthAdjust="spacingAndGlyphs">(Reconstructed)</text>
<text x="720.00" y="769.8" font-size="24.5" textLength="36.43" lengthAdjust="spacingAndGlyphs">Mn</text>
<text x="761.00" y="769.8" font-size="24.5" textLength="185.07" lengthAdjust="spacingAndGlyphs">(Reconstructed)</text>
</svg></body></html>
